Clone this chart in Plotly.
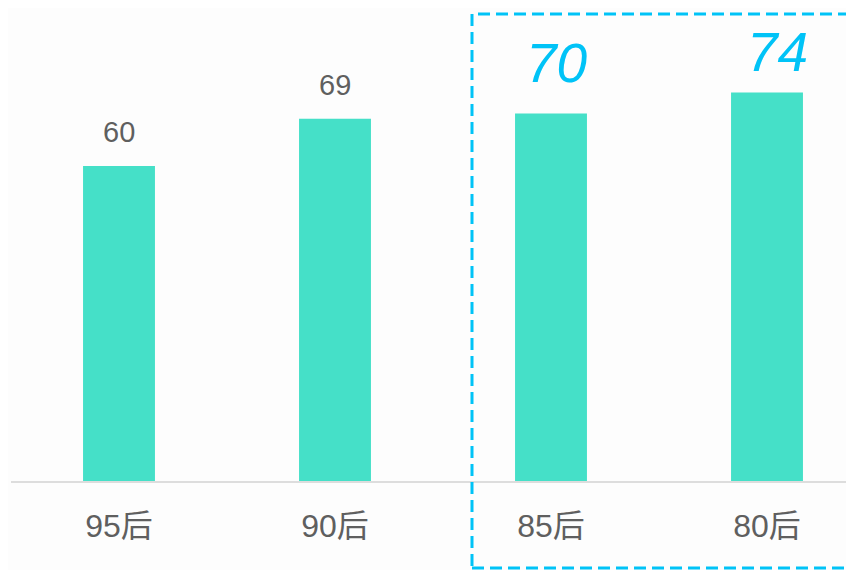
import plotly.graph_objects as go

categories = ["95后", "90后", "85后", "80后"]
values = [60, 69, 70, 74]
highlight = [False, False, True, True]

BAR = "#45e0c8"
GRAY = "#5f5f5f"
CYAN = "#00c3f7"
FONT = "Liberation Sans, Arial, Noto Sans CJK SC, sans-serif"

# page has an 8px body margin; figure sized so it fits the window without overflow
FIG_W = 846
FIG_H = 562
LEFT = 3
PLOT_W = FIG_W - LEFT
PLOT_H = 473

fig = go.Figure()
fig.add_trace(go.Bar(
    x=list(range(len(categories))), y=values,
    marker=dict(color=BAR, line=dict(width=0)),
    width=0.333, hoverinfo="skip",
))

for i, (v, h) in enumerate(zip(values, highlight)):
    if h:
        fig.add_annotation(
            x=i, y=v, text=f"<i>{v}</i>", showarrow=False,
            xanchor="center", yanchor="bottom",
            xshift=6 if v < 72 else 10, yshift=18 if v < 72 else 8,
            font=dict(family=FONT, size=55, color=CYAN),
        )
    else:
        fig.add_annotation(
            x=i, y=v, text=str(v), showarrow=False,
            xanchor="center", yanchor="bottom", yshift=16,
            font=dict(family=FONT, size=29, color=GRAY),
        )

# dashed highlight frame (figure pixel positions converted to paper fractions)
fig.add_shape(
    type="rect", xref="paper", yref="paper",
    x0=(464 - LEFT) / PLOT_W, x1=(844 - LEFT) / PLOT_W,
    y0=(PLOT_H - 560) / PLOT_H, y1=(PLOT_H - 6) / PLOT_H,
    line=dict(color=CYAN, width=3, dash="12px,6px"),
    fillcolor="rgba(0,0,0,0)",
)

fig.update_layout(
    width=FIG_W, height=FIG_H,
    margin=dict(l=LEFT, r=0, t=0, b=FIG_H - PLOT_H),
    paper_bgcolor="#fdfdfd", plot_bgcolor="#fdfdfd",
    showlegend=False,
    xaxis=dict(
        range=[-0.5, PLOT_W / 216 - 0.5],
        tickmode="array", tickvals=list(range(len(categories))), ticktext=categories,
        showgrid=False, zeroline=False,
        showline=True, linecolor="#dddddd", linewidth=2,
        ticks="outside", ticklen=16, tickcolor="rgba(0,0,0,0)",
        tickfont=dict(family=FONT, size=32, color=GRAY),
    ),
    yaxis=dict(
        range=[0, PLOT_H / 5.25], visible=False, showgrid=False, zeroline=False,
    ),
)

fig.write_html("out.html")
